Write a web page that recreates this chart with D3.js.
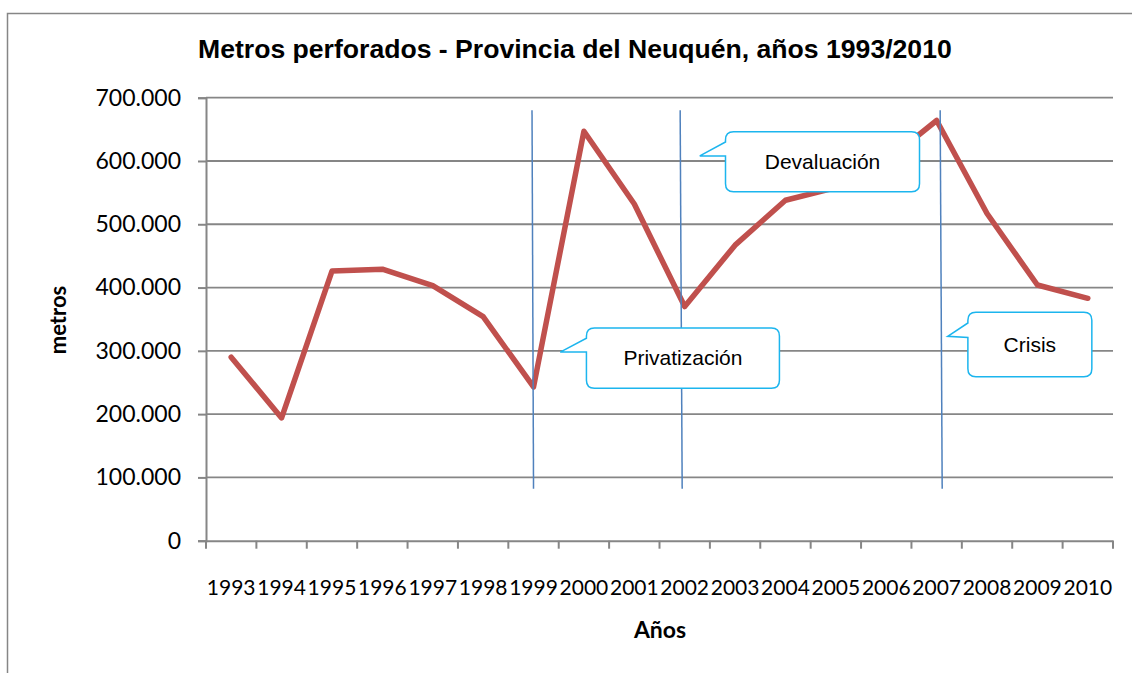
<!DOCTYPE html>
<html lang="es">
  <head>
    <meta charset="utf-8" />
    <title>Metros perforados</title>
    <style>
      body { margin: 0; background: #fff; }
    </style>
  </head>
  <body>
    <svg id="viz"></svg>
    <script src="https://d3js.org/d3.v7.min.js"></script>
    <script>
        // datos
        var years = [1993, 1994, 1995, 1996, 1997, 1998, 1999, 2000, 2001, 2002, 2003, 2004, 2005, 2006, 2007, 2008, 2009, 2010];
        var metros = [290000, 194000, 426000, 429000, 403000, 354000, 243000, 647000, 532000, 370000, 467000, 538000, 558000, 600000, 664000, 517000, 404000, 383000];
        var yTicks = [0, 100000, 200000, 300000, 400000, 500000, 600000, 700000];

        // lineas verticales (en años, arriba / abajo) y su extension en metros
        var markerTop = [1998.97, 2001.91, 2007.07];
        var markerBottom = [1999.0, 2001.95, 2007.11];
        var markerSpan = [82000, 680000];

        // llamadas: caja [año izq, año der, metros arriba, metros abajo], punta [año, metros], base de la punta
        var calloutText = ["Privatización", "Devaluación", "Crisis"];
        var calloutBox = [
            [2000.05, 2003.88, 336000, 241000],
            [2002.81, 2006.66, 646000, 551500],
            [2007.62, 2010.08, 361000, 259000]
        ];
        var calloutTip = [[1999.53, 298000], [2002.30, 608000], [2007.22, 323000]];
        var calloutBase = [[320000, 298000], [630000, 608000], [344000, 321000]];

        var width = 1132;
        var height = 673;
        var plotLeft = 206, plotRight = 1113, plotTop = 97.7, plotBottom = 540.7;
        var gray = "#868686";

        var svg = d3.select("#viz")
            .attr("width", width)
            .attr("height", height);

        // marco
        svg.append("path")
            .attr("d", "M7.5," + height + "V13.5H" + width)
            .attr("fill", "none")
            .attr("stroke", gray)
            .attr("stroke-width", 1.5);

        var x = d3.scaleBand().domain(years).range([plotLeft, plotRight]).padding(0);
        var xYear = d3.scaleLinear().domain([1992.5, 2010.5]).range([plotLeft, plotRight]);
        var y = d3.scaleLinear().domain([0, 700000]).range([plotBottom, plotTop]);

        var es = d3.formatLocale({decimal: ",", thousands: ".", grouping: [3], currency: ["$", ""]});
        var fmt = es.format(",");

        // grilla
        svg.append("g")
            .selectAll("line")
            .data(yTicks.slice(1))
            .enter()
            .append("line")
            .attr("x1", plotLeft)
            .attr("x2", plotRight)
            .attr("y1", function(d) { return y(d); })
            .attr("y2", function(d) { return y(d); })
            .attr("stroke", gray)
            .attr("stroke-width", 1.8);

        // eje y
        var yAxis = svg.append("g")
            .attr("transform", "translate(" + plotLeft + ",0)")
            .call(d3.axisLeft(y).tickValues(yTicks).tickFormat(fmt).tickSizeOuter(0).tickSize(8).tickPadding(17));
        yAxis.select(".domain").attr("stroke", gray).attr("stroke-width", 2);
        yAxis.selectAll(".tick line").attr("stroke", gray).attr("stroke-width", 2);
        yAxis.selectAll("text")
            .attr("fill", "#000")
            .style("font-family", "Lato, sans-serif")
            .style("font-size", "23px");

        // eje x
        var xAxis = svg.append("g")
            .attr("transform", "translate(0," + plotBottom + ")")
            .call(d3.axisBottom(x).tickSize(0).tickSizeOuter(0).tickPadding(39));
        xAxis.select(".domain").attr("stroke", gray).attr("stroke-width", 2);
        xAxis.selectAll("text")
            .attr("fill", "#000")
            .style("font-family", "Lato, sans-serif")
            .style("font-size", "21px");
        xAxis.append("g")
            .selectAll("line")
            .data(d3.range(years.length + 1))
            .enter()
            .append("line")
            .attr("x1", function(i) { return plotLeft + i * x.bandwidth(); })
            .attr("x2", function(i) { return plotLeft + i * x.bandwidth(); })
            .attr("y1", 0)
            .attr("y2", 8)
            .attr("stroke", gray)
            .attr("stroke-width", 2);

        // serie
        var line = d3.line()
            .x(function(d, i) { return x(years[i]) + x.bandwidth() / 2; })
            .y(function(d) { return y(d); });

        svg.append("path")
            .datum(metros)
            .attr("d", line)
            .attr("fill", "none")
            .attr("stroke", "#C0504D")
            .attr("stroke-width", 5.5)
            .attr("stroke-linejoin", "round")
            .attr("stroke-linecap", "round");

        // lineas verticales
        svg.append("g")
            .selectAll("line")
            .data(markerTop)
            .enter()
            .append("line")
            .attr("x1", function(d) { return xYear(d); })
            .attr("x2", function(d, i) { return xYear(markerBottom[i]); })
            .attr("y1", y(markerSpan[1]))
            .attr("y2", y(markerSpan[0]))
            .attr("stroke", "#4F81BD")
            .attr("stroke-width", 1.5);

        // llamadas
        var callouts = svg.append("g")
            .selectAll("g")
            .data(calloutText)
            .enter()
            .append("g");

        callouts.append("path")
            .attr("d", function(d, i) {
                var b = calloutBox[i], t = calloutTip[i], s = calloutBase[i];
                var x0 = xYear(b[0]), x1 = xYear(b[1]), y0 = y(b[2]), y1 = y(b[3]), r = 8;
                return "M" + (x0 + r) + "," + y0 +
                    "H" + (x1 - r) + "Q" + x1 + "," + y0 + " " + x1 + "," + (y0 + r) +
                    "V" + (y1 - r) + "Q" + x1 + "," + y1 + " " + (x1 - r) + "," + y1 +
                    "H" + (x0 + r) + "Q" + x0 + "," + y1 + " " + x0 + "," + (y1 - r) +
                    "V" + y(s[1]) + "L" + xYear(t[0]) + "," + y(t[1]) +
                    "L" + x0 + "," + y(s[0]) +
                    "V" + (y0 + r) + "Q" + x0 + "," + y0 + " " + (x0 + r) + "," + y0 + "Z";
            })
            .attr("fill", "#fff")
            .attr("stroke", "#1CB5EE")
            .attr("stroke-width", 1.5);

        callouts.append("text")
            .attr("x", function(d, i) { return (xYear(calloutBox[i][0]) + xYear(calloutBox[i][1])) / 2; })
            .attr("y", function(d, i) { return (y(calloutBox[i][2]) + y(calloutBox[i][3])) / 2; })
            .attr("dy", "0.35em")
            .attr("text-anchor", "middle")
            .style("font-family", "'Liberation Sans', Arial, sans-serif")
            .style("font-size", "21px")
            .text(function(d) { return d; });

        // titulos
        svg.append("text")
            .attr("x", 198)
            .attr("y", 58)
            .style("font-family", "'Liberation Sans', Arial, sans-serif")
            .style("font-weight", "bold")
            .style("font-size", "26.6px")
            .text("Metros perforados - Provincia del Neuquén, años 1993/2010");

        svg.append("text")
            .attr("transform", "translate(66,320) rotate(-90)")
            .attr("text-anchor", "middle")
            .style("font-family", "Lato, sans-serif")
            .style("font-weight", "bold")
            .style("font-size", "22px")
            .text("metros");

        svg.append("text")
            .attr("x", 660)
            .attr("y", 638)
            .attr("text-anchor", "middle")
            .style("font-family", "Lato, sans-serif")
            .style("font-weight", "bold")
            .style("font-size", "23px")
            .text("Años");
    </script>
  </body>
</html>
